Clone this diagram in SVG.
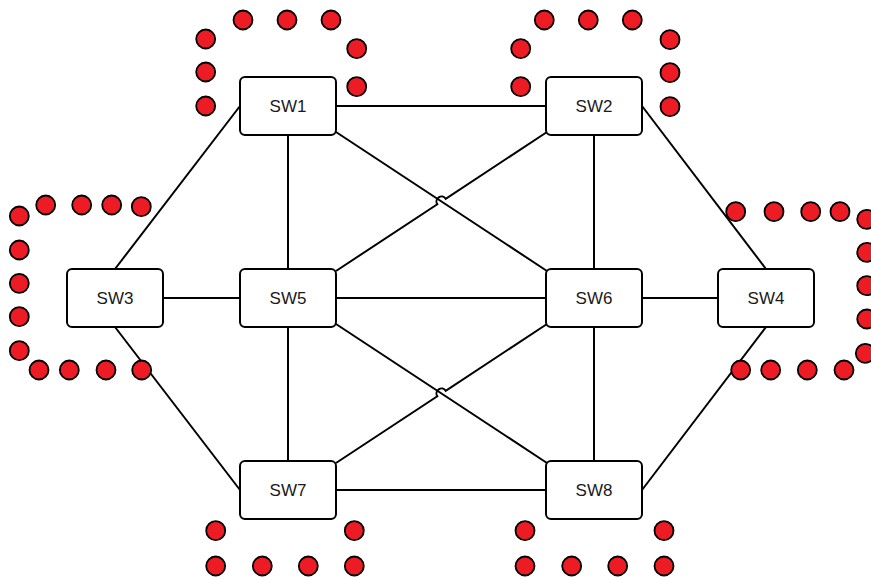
<svg xmlns="http://www.w3.org/2000/svg" width="871" height="580" viewBox="0 0 871 580">
<style>
.n rect{fill:#fff;stroke:#000;stroke-width:2}
.n text{font-family:"Liberation Sans",Arial,sans-serif;font-size:17px;fill:#1a1a1a;text-anchor:middle}
#edges path,#edges line{stroke:#000;stroke-width:2;fill:none}
.d circle{fill:#ed1c24;stroke:#000;stroke-width:1.8}
</style>
<rect width="871" height="580" fill="#fff"/>
<g id="edges">
<line x1="336" y1="106" x2="546" y2="106"/>
<line x1="240" y1="106" x2="115" y2="269"/>
<line x1="288" y1="135" x2="288" y2="269"/>
<line x1="336" y1="132" x2="547" y2="271"/>
<path d="M547,132 L445.7,198.75 A5,5 0 0 0 437.3,204.25 L336,271"/>
<line x1="594" y1="135" x2="594" y2="269"/>
<line x1="642" y1="106" x2="766" y2="269"/>
<line x1="163" y1="298" x2="240" y2="298"/>
<line x1="115" y1="327" x2="240" y2="490"/>
<line x1="336" y1="298" x2="546" y2="298"/>
<line x1="288" y1="327" x2="288" y2="461"/>
<line x1="336" y1="324" x2="547" y2="463"/>
<path d="M547,324 L445.7,390.75 A5,5 0 0 0 437.3,396.25 L336,463"/>
<line x1="642" y1="298" x2="718" y2="298"/>
<line x1="594" y1="327" x2="594" y2="461"/>
<line x1="766" y1="327" x2="642" y2="490"/>
<line x1="336" y1="490" x2="546" y2="490"/>
</g>
<g id="SW1" class="n"><rect x="240" y="77" width="96" height="58" rx="5"/><text x="288" y="112">SW1</text></g>
<g id="SW2" class="n"><rect x="546" y="77" width="96" height="58" rx="5"/><text x="594" y="112">SW2</text></g>
<g id="SW3" class="n"><rect x="67" y="269" width="96" height="58" rx="5"/><text x="115" y="304">SW3</text></g>
<g id="SW5" class="n"><rect x="240" y="269" width="96" height="58" rx="5"/><text x="288" y="304">SW5</text></g>
<g id="SW6" class="n"><rect x="546" y="269" width="96" height="58" rx="5"/><text x="594" y="304">SW6</text></g>
<g id="SW4" class="n"><rect x="718" y="269" width="96" height="58" rx="5"/><text x="766" y="304">SW4</text></g>
<g id="SW7" class="n"><rect x="240" y="461" width="96" height="58" rx="5"/><text x="288" y="496">SW7</text></g>
<g id="SW8" class="n"><rect x="546" y="461" width="96" height="58" rx="5"/><text x="594" y="496">SW8</text></g>
<g id="dots" class="d">
<circle cx="243" cy="20" r="9.5"/><circle cx="287" cy="20" r="9.5"/><circle cx="331" cy="20" r="9.5"/>
<circle cx="205.7" cy="39" r="9.5"/><circle cx="205.7" cy="72" r="9.5"/><circle cx="205.7" cy="106" r="9.5"/>
<circle cx="356.7" cy="48.7" r="9.5"/><circle cx="356.7" cy="86.7" r="9.5"/>
<circle cx="544.3" cy="20" r="9.5"/><circle cx="588.3" cy="20" r="9.5"/><circle cx="632.3" cy="20" r="9.5"/>
<circle cx="520.7" cy="48.7" r="9.5"/><circle cx="520.7" cy="86.7" r="9.5"/>
<circle cx="670" cy="39.7" r="9.5"/><circle cx="670" cy="72.7" r="9.5"/><circle cx="670" cy="106.7" r="9.5"/>
<circle cx="45.7" cy="205" r="9.5"/><circle cx="81.7" cy="205" r="9.5"/><circle cx="111.7" cy="205" r="9.5"/><circle cx="141.3" cy="206.7" r="9.5"/>
<circle cx="19.3" cy="216" r="9.5"/><circle cx="19.3" cy="250" r="9.5"/><circle cx="19.3" cy="283.3" r="9.5"/><circle cx="19.3" cy="316.7" r="9.5"/><circle cx="19.3" cy="350.7" r="9.5"/>
<circle cx="39" cy="370" r="9.5"/><circle cx="69.3" cy="370" r="9.5"/><circle cx="106" cy="370" r="9.5"/><circle cx="141.7" cy="370" r="9.5"/>
<circle cx="735.7" cy="211.7" r="9.5"/><circle cx="774" cy="211.7" r="9.5"/><circle cx="810.7" cy="211.7" r="9.5"/><circle cx="840" cy="211.7" r="9.5"/>
<circle cx="866.7" cy="219.3" r="9.5"/><circle cx="866.7" cy="252.3" r="9.5"/><circle cx="866.7" cy="285.7" r="9.5"/><circle cx="866.7" cy="319" r="9.5"/><circle cx="865.3" cy="353.3" r="9.5"/>
<circle cx="740.7" cy="370" r="9.5"/><circle cx="770.7" cy="370" r="9.5"/><circle cx="807.3" cy="370" r="9.5"/><circle cx="844" cy="370" r="9.5"/>
<circle cx="215.7" cy="530.7" r="9.5"/><circle cx="354.3" cy="530.7" r="9.5"/>
<circle cx="215.7" cy="566" r="9.5"/><circle cx="262.3" cy="566" r="9.5"/><circle cx="308.3" cy="566" r="9.5"/><circle cx="354.3" cy="566" r="9.5"/>
<circle cx="525" cy="530.7" r="9.5"/><circle cx="664" cy="530.7" r="9.5"/>
<circle cx="525" cy="566" r="9.5"/><circle cx="571.7" cy="566" r="9.5"/><circle cx="617.7" cy="566" r="9.5"/><circle cx="664" cy="566" r="9.5"/>
</g>
</svg>
